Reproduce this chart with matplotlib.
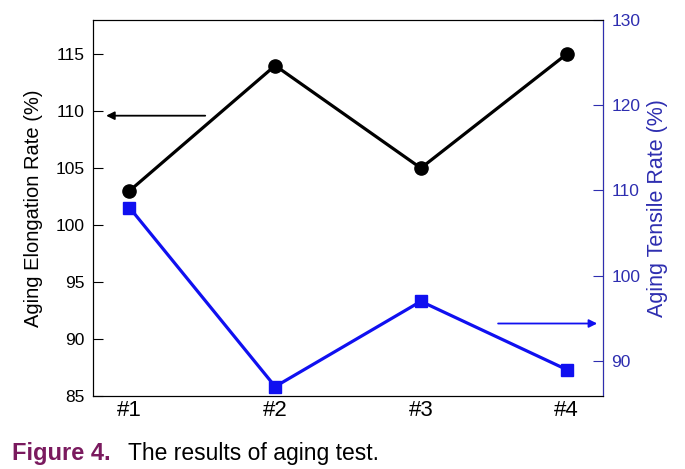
import matplotlib
matplotlib.use("Agg")
from matplotlib import pyplot as plt

samples = ["#1", "#2", "#3", "#4"]
elongation = [103, 114, 105, 115]
tensile = [108, 87, 97, 89]
left_ticks = [85, 90, 95, 100, 105, 110, 115]
right_ticks = [90, 100, 110, 120, 130]

plt.rcParams['font.family'] = ['Liberation Sans', 'DejaVu Sans']

blue = '#1010f0'
axblue = '#2e2eb0'

fig = plt.figure(figsize=(6.85, 4.69), dpi=100)
ax = fig.add_axes([0.1358, 0.1557, 0.7445, 0.8017])
x = list(range(len(samples)))

ax.plot(x, elongation, color='black', lw=2.3, marker='o', ms=9.5)
ax.set_xlim(-0.25, 3.25)
ax.set_ylim(85, 118)
ax.set_yticks(left_ticks)
ax.set_xticks(x)
ax.set_xticklabels(samples, fontsize=16)
ax.tick_params(axis='x', length=0, pad=3)
ax.tick_params(axis='y', direction='in', length=7, labelsize=12.5, pad=6)
ax.set_ylabel('Aging Elongation Rate (%)', fontsize=14.5, labelpad=9)
ax.annotate('', xy=(-0.16, 109.6), xytext=(0.52, 109.6),
            arrowprops=dict(arrowstyle='-|>', color='black', lw=1.3,
                            mutation_scale=12, shrinkA=0, shrinkB=0))

ax2 = ax.twinx()
ax2.plot(x, tensile, color=blue, lw=2.3, marker='s', ms=8)
ax2.set_ylim(85.9, 130)
ax2.set_yticks(right_ticks)
ax2.tick_params(axis='y', direction='in', length=7, labelsize=12.5,
                colors=axblue, pad=6)
ax2.spines['right'].set_color(axblue)
ax2.set_ylabel('Aging Tensile Rate (%)', fontsize=15.5, color=axblue, labelpad=5)
ax2.annotate('', xy=(3.21, 94.4), xytext=(2.53, 94.4),
             arrowprops=dict(arrowstyle='-|>', color=blue, lw=1.3,
                             mutation_scale=12, shrinkA=0, shrinkB=0))

fig.text(0.017, 0.019, 'Figure 4.', color='#7a1a5e', fontsize=17,
         fontweight='bold', va='baseline')
fig.text(0.187, 0.019, 'The results of aging test.', color='black',
         fontsize=16.5, va='baseline')

fig.savefig('out.png', dpi=100)
